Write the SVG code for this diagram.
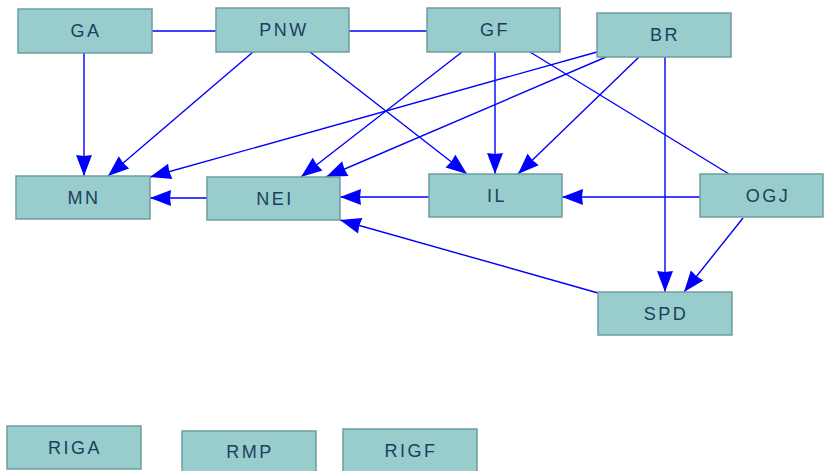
<svg xmlns="http://www.w3.org/2000/svg" width="824" height="471" viewBox="0 0 824 471">
<style>
.n rect{fill:#99cccc;stroke:#6e9e9e;stroke-width:1.5}
.n text{font-family:"Liberation Sans",Arial,sans-serif;font-size:18px;letter-spacing:2.5px;fill:#1b3f5e;text-anchor:middle;dominant-baseline:central}
.e{stroke:#0000ff;stroke-width:1.4;fill:none}
.a{marker-end:url(#ah)}
</style>
<defs>
<marker id="ah" markerUnits="userSpaceOnUse" markerWidth="26" markerHeight="20" viewBox="0 -10 26 20" refX="24" refY="0" orient="auto">
<path d="M24,0 L3,-8 L4,0 L3,8 Z" fill="#0000ff"/>
</marker>
</defs>
<rect width="824" height="471" fill="#ffffff"/>
<g id="connectors">
<line class="e" x1="152" y1="31" x2="216" y2="31"/>
<line class="e" x1="349" y1="31" x2="427" y2="31"/>
<line class="e" x1="530" y1="52" x2="729" y2="174"/>
<line class="e a" x1="84" y1="53" x2="84" y2="176"/>
<line class="e a" x1="253" y1="52" x2="108" y2="176"/>
<line class="e a" x1="310" y1="52" x2="467" y2="174"/>
<line class="e a" x1="462" y1="52" x2="301" y2="177"/>
<line class="e a" x1="495" y1="52" x2="495" y2="174"/>
<line class="e a" x1="597" y1="52" x2="150" y2="177"/>
<line class="e a" x1="606" y1="57" x2="326" y2="177"/>
<line class="e a" x1="639" y1="57" x2="518" y2="174"/>
<line class="e a" x1="665" y1="57" x2="665" y2="292"/>
<line class="e a" x1="429" y1="197" x2="340" y2="197"/>
<line class="e a" x1="700" y1="197" x2="562" y2="197"/>
<line class="e a" x1="207" y1="198" x2="150" y2="198"/>
<line class="e a" x1="743" y1="218" x2="684" y2="292"/>
<line class="e a" x1="598" y1="293" x2="340" y2="220"/>
</g>
<g id="GA" class="n"><rect x="18" y="9" width="134" height="44"/><text x="86" y="31">GA</text></g>
<g id="PNW" class="n"><rect x="216" y="8" width="133" height="44"/><text x="284" y="30">PNW</text></g>
<g id="GF" class="n"><rect x="427" y="8" width="133" height="44"/><text x="495" y="30">GF</text></g>
<g id="BR" class="n"><rect x="597" y="13" width="134" height="44"/><text x="665" y="35">BR</text></g>
<g id="MN" class="n"><rect x="16" y="176" width="134" height="43"/><text x="84" y="198">MN</text></g>
<g id="NEI" class="n"><rect x="207" y="177" width="133" height="43"/><text x="275" y="199">NEI</text></g>
<g id="IL" class="n"><rect x="429" y="174" width="133" height="43"/><text x="497" y="196">IL</text></g>
<g id="OGJ" class="n"><rect x="700" y="174" width="123" height="43"/><text x="768" y="196">OGJ</text></g>
<g id="SPD" class="n"><rect x="598" y="292" width="134" height="43"/><text x="666" y="314">SPD</text></g>
<g id="RIGA" class="n"><rect x="7" y="426" width="134" height="43"/><text x="75" y="448">RIGA</text></g>
<g id="RMP" class="n"><rect x="182" y="431" width="134" height="43"/><text x="250" y="452">RMP</text></g>
<g id="RIGF" class="n"><rect x="343" y="429" width="134" height="43"/><text x="411" y="451">RIGF</text></g>
</svg>
